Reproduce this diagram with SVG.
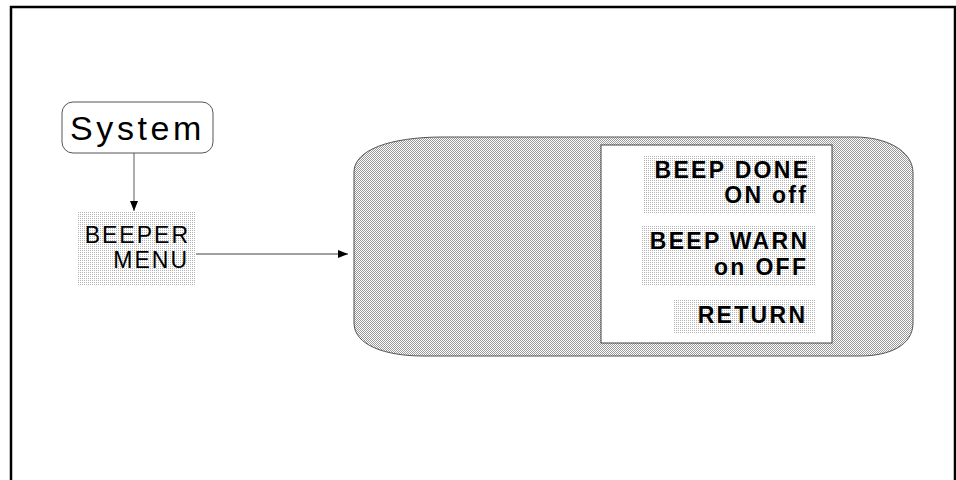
<svg xmlns="http://www.w3.org/2000/svg" width="956" height="480" viewBox="0 0 956 480">
<defs>
<pattern id="dark" width="2" height="2" patternUnits="userSpaceOnUse">
<rect width="2" height="2" fill="#ffffff"/>
<rect x="0" y="0" width="1" height="1" fill="#999999"/>
<rect x="1" y="1" width="1" height="1" fill="#999999"/>
</pattern>
<pattern id="light" width="2" height="2" patternUnits="userSpaceOnUse">
<rect width="2" height="2" fill="#ffffff"/>
<rect x="0" y="0" width="1" height="1" fill="#b4b4b4"/>
</pattern>
<marker id="arr" viewBox="0 0 10 8" refX="10" refY="4" markerWidth="10" markerHeight="8" markerUnits="userSpaceOnUse" orient="auto">
<path d="M0,0 L10,4 L0,8 Z" fill="#000"/>
</marker>
<style>
.t{font-family:"Liberation Sans",Arial,sans-serif;fill:#000;}
.m{font-size:23px;font-weight:bold;letter-spacing:2.3px;text-anchor:end;}
.b{font-size:23px;font-weight:normal;letter-spacing:2px;text-anchor:end;}
.conn{stroke:#808080;stroke-width:1.3;fill:none;}
</style>
</defs>
<path d="M11,480 V7 H955 V480" fill="none" stroke="#000" stroke-width="2.5"/>
<g id="connectors">
<line class="conn" x1="134" y1="153" x2="134" y2="211" marker-end="url(#arr)"/>
<line class="conn" x1="196" y1="254" x2="348" y2="254" marker-end="url(#arr)"/>
</g>
<g id="system">
<rect x="62" y="102" width="151" height="51" rx="11" ry="11" fill="#fff" stroke="#555" stroke-width="1"/>
<text class="t" x="70" y="140" font-size="34" letter-spacing="3.6">System</text>
</g>
<g id="beeper-menu">
<rect x="77" y="212" width="119" height="73" fill="url(#light)"/>
<text class="t b" x="190" y="243">BEEPER</text>
<text class="t b" x="189" y="268">MENU</text>
</g>
<g id="menu-screen">
<path d="M354,172 C354,150 390,137 443,137 H855 C885,137 913,150 913,173 V323 C913,345 890,356 860,356 H423 C385,356 354,345 354,323 Z" fill="url(#dark)" stroke="#555" stroke-width="1"/>
<rect x="601" y="145" width="231" height="198" fill="#fff" stroke="#444" stroke-width="1"/>
</g>
<g id="beep-done">
<rect x="643" y="155" width="172" height="58" fill="url(#light)"/>
<text class="t m" x="810.3" y="178">BEEP DONE</text>
<text class="t m" x="808.3" y="203">ON off</text>
</g>
<g id="beep-warn">
<rect x="642" y="226" width="173" height="60" fill="url(#light)"/>
<text class="t m" x="809.3" y="249">BEEP WARN</text>
<text class="t m" x="808.3" y="275">on OFF</text>
</g>
<g id="return">
<rect x="673" y="299" width="142" height="34" fill="url(#light)"/>
<text class="t m" x="807.3" y="323">RETURN</text>
</g>
</svg>
